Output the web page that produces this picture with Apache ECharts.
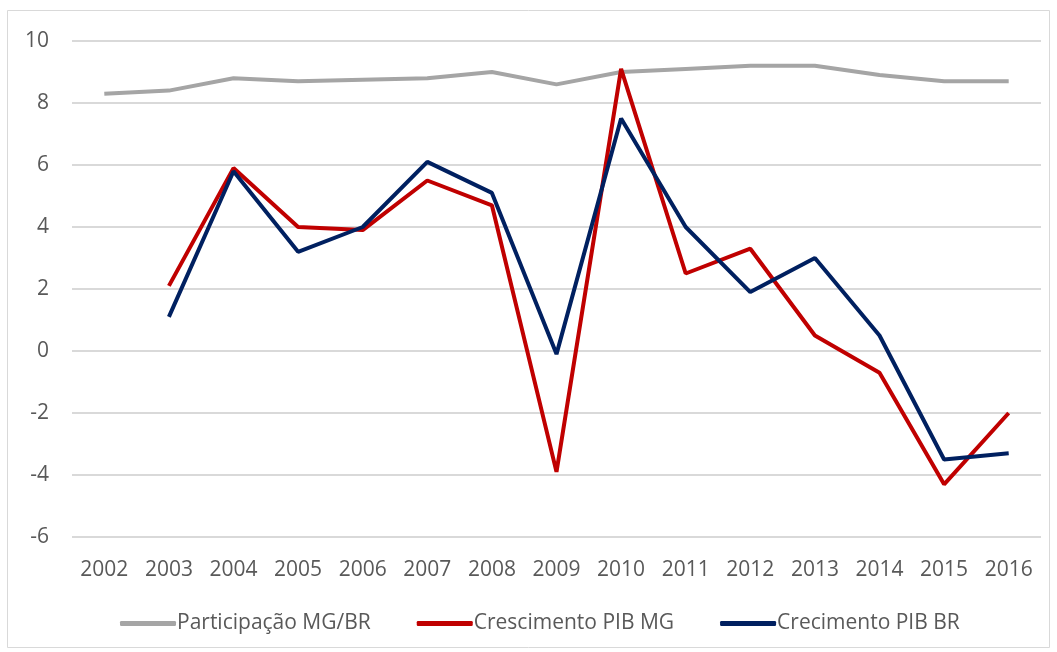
<!DOCTYPE html>
<html>
<head>
<meta charset="utf-8">
<script src="https://cdn.jsdelivr.net/npm/echarts@6/dist/echarts.min.js"></script>
<style>
  html, body { margin: 0; padding: 0; background: #fff; }
  #chart { width: 1057px; height: 652px; }
</style>
</head>
<body>
<div id="chart"></div>
<script>
var years = ['2002', '2003', '2004', '2005', '2006', '2007', '2008', '2009', '2010', '2011', '2012', '2013', '2014', '2015', '2016'];
var participacaoMG = [8.3, 8.4, 8.8, 8.7, 8.75, 8.8, 9.0, 8.6, 9.0, 9.1, 9.2, 9.2, 8.9, 8.7, 8.7];
var crescimentoMG = [null, 2.1, 5.9, 4.0, 3.9, 5.5, 4.7, -3.9, 9.1, 2.5, 3.3, 0.5, -0.7, -4.3, -2.0];
var crescimentoBR = [null, 1.1, 5.8, 3.2, 4.0, 6.1, 5.1, -0.1, 7.5, 4.0, 1.9, 3.0, 0.5, -3.5, -3.3];

var font = "'Open Sans', sans-serif";
var chart = echarts.init(document.getElementById('chart'));

function line(name, data, color) {
    return {
        name: name,
        type: 'line',
        data: data,
        symbol: 'none',
        lineStyle: { color: color, width: 4 },
        itemStyle: { color: color },
        emphasis: { disabled: true },
        animation: false
    };
}

chart.setOption({
    backgroundColor: '#fff',
    graphic: [{
        type: 'rect',
        shape: { x: 7.5, y: 10.5, width: 1042, height: 637 },
        style: { fill: 'none', stroke: '#d9d9d9', lineWidth: 1 }
    }],
    grid: { left: 72, right: 16, top: 41, bottom: 115 },
    xAxis: {
        type: 'category',
        data: years,
        boundaryGap: true,
        axisLine: { show: false },
        axisTick: { show: false },
        axisLabel: { color: '#595959', fontSize: 21, fontFamily: font, margin: 23 }
    },
    yAxis: {
        type: 'value',
        min: -6,
        max: 10,
        interval: 2,
        axisLine: { show: false },
        axisTick: { show: false },
        splitLine: { lineStyle: { color: '#d9d9d9', width: 2 } },
        axisLabel: { color: '#595959', fontSize: 21, fontFamily: font, margin: 23 }
    },
    legend: {
        bottom: 13,
        left: 115,
        icon: 'roundRect',
        itemWidth: 56,
        itemHeight: 5,
        itemGap: 46,
        textStyle: { color: '#595959', fontSize: 21, fontFamily: font, padding: [0, 0, 0, -4] },
        data: ['Participação MG/BR', 'Crescimento PIB MG', 'Crecimento PIB BR']
    },
    series: [
        line('Participação MG/BR', participacaoMG, '#A5A5A5'),
        line('Crescimento PIB MG', crescimentoMG, '#C00000'),
        line('Crecimento PIB BR', crescimentoBR, '#002060')
    ]
});
</script>
</body>
</html>
